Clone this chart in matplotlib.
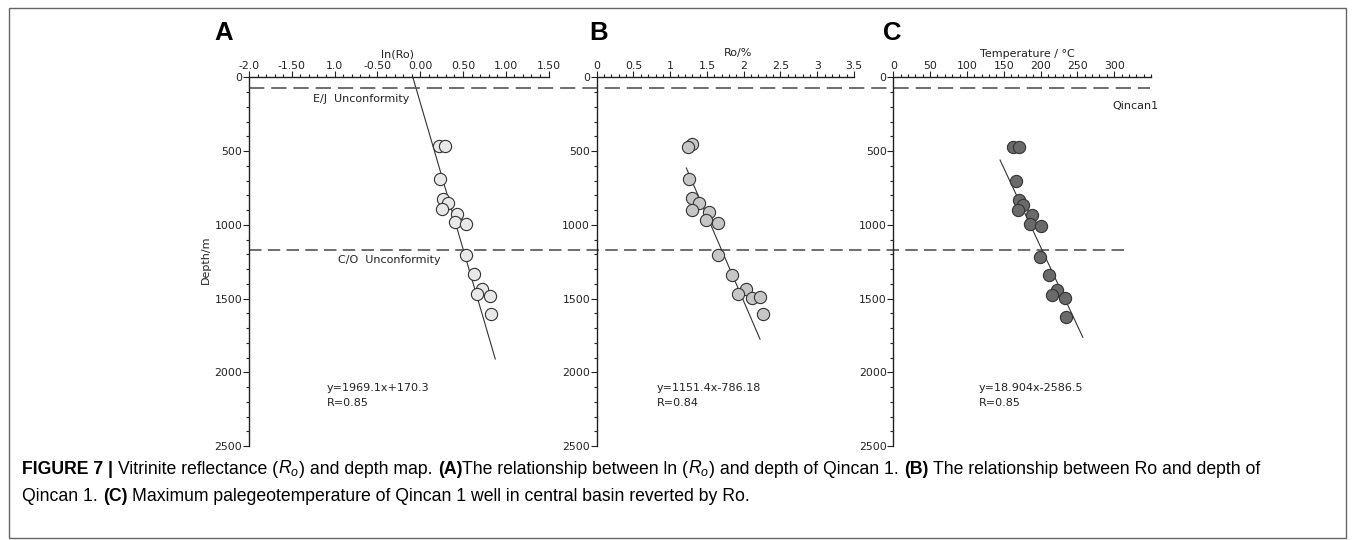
import matplotlib
matplotlib.use("Agg")
import matplotlib.pyplot as plt
from matplotlib.ticker import MultipleLocator, FixedLocator, FixedFormatter
from matplotlib.transforms import blended_transform_factory
from matplotlib.patches import Rectangle
from matplotlib.text import Annotation

plt.rcParams['font.family'] = ['DejaVu Sans']
plt.rcParams['mathtext.fontset'] = 'custom'
plt.rcParams['mathtext.rm'] = 'Liberation Sans'
plt.rcParams['mathtext.it'] = 'Liberation Sans:italic'
plt.rcParams['lines.scale_dashes'] = False

# panel A: ln(Ro) vs depth
ln_ro = [0.214, 0.284, 0.234, 0.272, 0.319, 0.257, 0.433, 0.406, 0.530,
         0.530, 0.632, 0.725, 0.658, 0.810, 0.827]
depth_a = [464, 464, 690, 823, 852, 893, 925, 981, 997,
           1203, 1332, 1433, 1469, 1481, 1605]
fit_a_x = [-0.086, 0.877]
fit_a_y = [0, 1910]

# panel B: Ro vs depth
ro = [1.293, 1.238, 1.260, 1.297, 1.388, 1.297, 1.528, 1.483, 1.646,
      1.654, 1.841, 2.035, 1.927, 2.113, 2.226, 2.259]
depth_b = [454, 473, 692, 816, 852, 898, 915, 970, 988,
           1205, 1338, 1435, 1469, 1498, 1488, 1607]
fit_b_x = [1.219, 2.222]
fit_b_y = [615, 1776]

# panel C: temperature vs depth
temp = [163.1, 171.3, 167.2, 170.9, 176.7, 169.5, 188.9, 185.8, 200.4,
        199.8, 212.0, 222.9, 215.7, 233.4, 234.7]
depth_c = [475, 475, 703, 834, 866, 902, 936, 993, 1008,
           1216, 1342, 1442, 1478, 1494, 1623]
fit_c_x = [145, 257.4]
fit_c_y = [561, 1763]

a_ticks = [-2.0, -1.5, -1.0, -0.5, 0.0, 0.5, 1.0, 1.5]
a_labels = ['-2.0', '-1.50', '1.0', '-0.50', '0.00', '0.50', '1.00', '1.50']
b_ticks = [0, 0.5, 1, 1.5, 2, 2.5, 3, 3.5]
b_labels = ['0', '0.5', '1', '1.5', '2', '2.5', '3', '3.5']
c_ticks = [0, 50, 100, 150, 200, 250, 300]
c_labels = ['0', '50', '100', '150', '200', '250', '300']
depth_ticks = [0, 500, 1000, 1500, 2000, 2500]

unconf_depths = [75, 1171]

W, H = 1355, 540
fig = plt.figure(figsize=(W / 100, H / 100), dpi=100)

top, bot = 77.3, 446.0


def make_axes(left, right, xlim, ticks, labels, minor):
    ax = fig.add_axes([left / W, (H - bot) / H, (right - left) / W, (bot - top) / H])
    ax.set_xlim(*xlim)
    ax.set_ylim(2500, 0)
    for s in ['bottom', 'right']:
        ax.spines[s].set_visible(False)
    for s in ['top', 'left']:
        ax.spines[s].set_linewidth(1.0)
        ax.spines[s].set_color('#222222')
    ax.xaxis.tick_top()
    ax.xaxis.set_major_locator(FixedLocator(ticks))
    ax.xaxis.set_major_formatter(FixedFormatter(labels))
    ax.xaxis.set_minor_locator(MultipleLocator(minor))
    ax.yaxis.set_major_locator(FixedLocator(depth_ticks))
    ax.yaxis.set_minor_locator(MultipleLocator(100))
    ax.tick_params(which='major', length=4, width=0.8, labelsize=7.8, pad=0.8,
                   colors='#222222')
    ax.tick_params(which='minor', length=2.2, width=0.8, colors='#222222')
    ax.patch.set_visible(False)
    return ax


axA = make_axes(249, 548.6, (-2.0, 1.5), a_ticks, a_labels, 0.1)
axB = make_axes(596.7, 854, (0, 3.5), b_ticks, b_labels, 0.1)
axC = make_axes(893.3, 1151, (0, 350), c_ticks, c_labels, 10)

mk = dict(marker='o', ms=8.8, mec='#333333', mew=0.8, ls='none', zorder=3)
axA.plot(ln_ro, depth_a, mfc='#e8e8e8', **mk)
axB.plot(ro, depth_b, mfc='#c6c6c6', **mk)
axC.plot(temp, depth_c, mfc='#6a6a6a', **mk)

for ax, fx, fy in [(axA, fit_a_x, fit_a_y), (axB, fit_b_x, fit_b_y), (axC, fit_c_x, fit_c_y)]:
    ax.plot(fx, fy, color='#333333', lw=0.8, zorder=2)

# unconformity lines cross all three panels
blend = blended_transform_factory(fig.transFigure, axA.transData)
axA.plot([249 / W, 1150 / W], [unconf_depths[0]] * 2, transform=blend, clip_on=False,
         color='#555555', lw=1.2, dashes=(11, 5))
axA.plot([249 / W, 1125 / W], [unconf_depths[1]] * 2, transform=blend, clip_on=False,
         color='#555555', lw=1.2, dashes=(9, 4.5))

txt = dict(fontsize=8, color='#222222')
axA.text(-1.255, 149, 'E/J  Unconformity', va='center', ha='left', **txt)
axA.text(-0.959, 1239, 'C/O  Unconformity', va='center', ha='left', **txt)
axC.text(297, 195, 'Qincan1', va='center', ha='left', clip_on=False, **txt)

# axis titles on top
axA.text(0.497, 1.062, 'ln(Ro)', transform=axA.transAxes, ha='center', va='center', **txt)
axB.text(0.549, 1.066, 'Ro/%', transform=axB.transAxes, ha='center', va='center', **txt)
axC.text(0.519, 1.063, 'Temperature / °C', transform=axC.transAxes, ha='center', va='center', **txt)
fig.text(206 / W, 1 - 260 / H, 'Depth/m', rotation=90, ha='center', va='center', **txt)

# fit equations
for ax, xf, eq, r in [(axA, 0.26, 'y=1969.1x+170.3', 'R=0.85'),
                      (axB, 0.233, 'y=1151.4x-786.18', 'R=0.84'),
                      (axC, 0.333, 'y=18.904x-2586.5', 'R=0.85')]:
    ax.text(xf, 0.157, eq, transform=ax.transAxes, ha='left', va='center', **txt)
    ax.text(xf, 0.117, r, transform=ax.transAxes, ha='left', va='center', **txt)

# panel letters
for x, s in [(214, 'A'), (589, 'B'), (883, 'C')]:
    fig.text(x / W, 1 - 33 / H, s, fontsize=18.5, fontweight='bold', ha='left', va='center',
             family='Liberation Sans')

# frame around the figure
fig.add_artist(Rectangle((9 / W, 2 / H), (1346 - 9) / W, (538 - 8) / H, transform=fig.transFigure,
                         fill=False, edgecolor='#666666', lw=1.0))

# caption with mixed bold / normal runs
cap_fs = 12.7
sp = 0.278 * cap_fs


def caption_line(y, pieces):
    prev = None
    for s, bold, gap in pieces:
        w = 'bold' if bold else 'normal'
        if prev is None:
            prev = fig.text(22 / W, y, s, fontsize=cap_fs, fontweight=w, ha='left', va='bottom',
                            family='Liberation Sans')
        else:
            a = Annotation(s, xy=(1, 0), xycoords=prev, xytext=(gap, 0), textcoords='offset points',
                           fontsize=cap_fs, fontweight=w, ha='left', va='bottom',
                           family='Liberation Sans')
            fig.add_artist(a)
            prev = a


caption_line(0.114, [
    ('FIGURE 7 |', True, 0),
    ('Vitrinite reflectance (', False, sp),
    ('$R_o$', False, 0),
    (') and depth map.', False, 0),
    ('(A)', True, sp),
    ('The relationship between ln (', False, 0),
    ('$R_o$', False, 0),
    (') and depth of Qincan 1.', False, 0),
    ('(B)', True, sp),
    ('The relationship between Ro and depth of', False, sp),
])
caption_line(0.064, [
    ('Qincan 1.', False, 0),
    ('(C)', True, sp),
    ('Maximum palegeotemperature of Qincan 1 well in central basin reverted by Ro.', False, sp),
])

fig.savefig('out.png', dpi=100)
